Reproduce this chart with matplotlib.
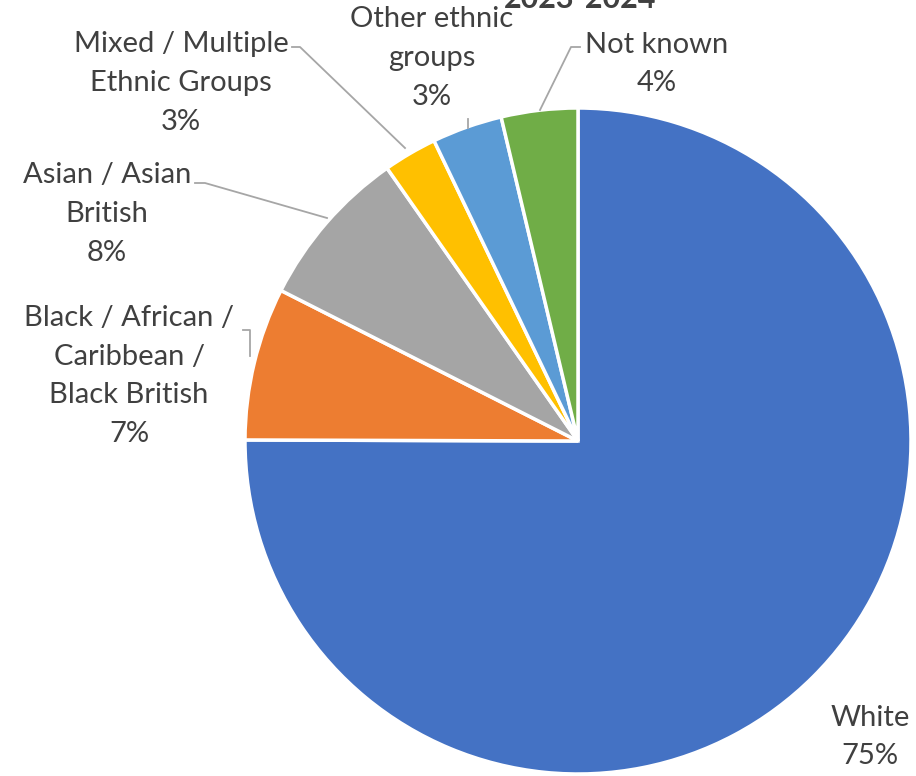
import matplotlib
matplotlib.use("Agg")
import matplotlib.pyplot as plt

categories = ["White", "Black / African /\nCaribbean /\nBlack British", "Asian / Asian\nBritish",
              "Mixed / Multiple\nEthnic Groups", "Other ethnic\ngroups", "Not known"]
values = [74.9, 7.4, 7.8, 2.6, 3.4, 3.7]
pct_labels = ["75%", "7%", "8%", "3%", "3%", "4%"]
colors = ["#4472C4", "#ED7D31", "#A5A5A5", "#FFC000", "#5B9BD5", "#70AD47"]
title = "2023-2024"

W, H = 916, 776
fig = plt.figure(figsize=(W / 100, H / 100), dpi=100)
ax = fig.add_axes([0, 0, 1, 1])

cx, cy, r = 578, H - 441, 333
ax.pie(values, colors=colors, startangle=90, counterclock=False, center=(cx, cy), radius=r,
       wedgeprops=dict(edgecolor="white", linewidth=2.5), frame=True)
ax.set_xlim(0, W)
ax.set_ylim(0, H)
ax.set_aspect("equal")
ax.axis("off")

font = dict(family=["Lato", "DejaVu Sans"], fontsize=21, color="#404040", ha="center", va="center",
            linespacing=1.6)
label_pos = [(870, 737), (129, 376), (107, 214), (181, 83), (432, 58), (657, 64)]
for cat, p, (x, y) in zip(categories, pct_labels, label_pos):
    ax.text(x, H - y, f"{cat}\n{p}", **font)

lc = "#A6A6A6"
leaders = [
    [(292, 47), (300, 47), (405, 148)],
    [(195, 183), (205, 183), (327, 218)],
    [(243, 330), (250, 330), (250, 356)],
    [(468, 119), (468, 128)],
    [(580, 47), (571, 47), (540, 110)],
]
for seg in leaders:
    xs = [p[0] for p in seg]
    ys = [H - p[1] for p in seg]
    ax.plot(xs, ys, color=lc, linewidth=1.3)

ax.text(580, H - 8, title, ha="center", va="baseline", fontsize=22, fontweight="bold",
        color="#404040", family=["Lato", "DejaVu Sans"], clip_on=False)

fig.savefig("out.png", dpi=100)
